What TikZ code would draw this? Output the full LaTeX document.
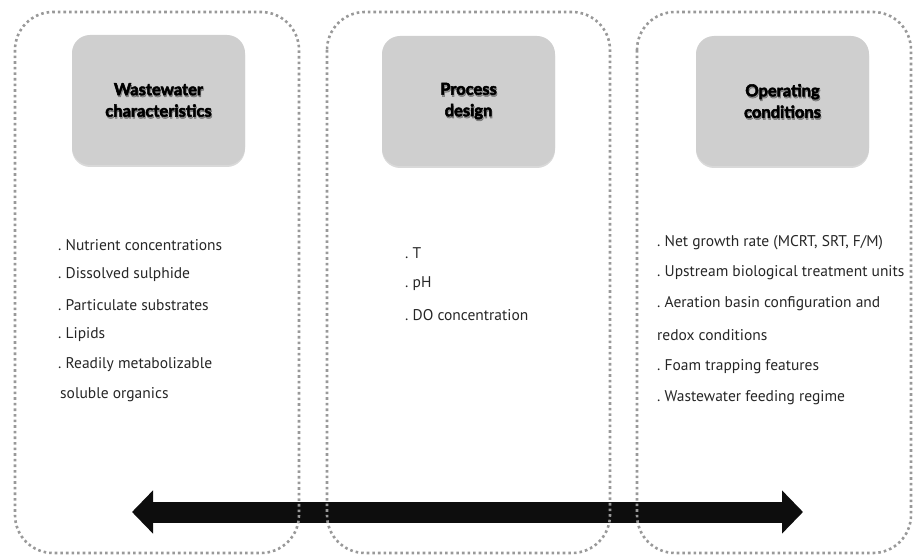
\documentclass[tikz,border=0pt]{standalone}
\usepackage{fontspec}
\setmainfont{PT Sans}
\newfontfamily\headfont[BoldFeatures={FakeBold=3}]{Lato}
\usetikzlibrary{arrows.meta,shadows}
\begin{document}
\begin{tikzpicture}[x=1pt,y=-1pt,
  panel/.style={draw=gray!80, line width=2.6pt, dash pattern=on 2.6pt off 3pt, rounded corners=38pt},
  headbox/.style={fill=gray!38, rounded corners=18pt, minimum width=173pt, minimum height=130pt,
    drop shadow={shadow xshift=0pt, shadow yshift=-2pt, opacity=0.15, fill=black}},
  headtext/.style={align=center, font=\headfont\bfseries\fontsize{16.5}{21.5}\selectfont},
  headshade/.style={headtext, text=black, opacity=0.3, xshift=0.8pt, yshift=-1.8pt},
  item/.style={anchor=west, inner sep=0pt, font=\fontsize{15.5}{16}\selectfont, color=black!85},
  bigarrow/.style={line width=21pt, color=black!95,
    {Triangle[length=21pt,width=42pt]}-{Triangle[length=21pt,width=42pt]}}]
\useasboundingbox (0,0) rectangle (913,556);

% two-way arrow along the bottom
\coordinate (la) at (132,512);
\coordinate (ra) at (803,512);
\draw[bigarrow] (la) -- (ra);

% dotted panels
\draw[panel] (15,12) rectangle (299,553);
\draw[panel] (327,12) rectangle (610,553);
\draw[panel] (637,12) rectangle (911,553);

% heading boxes
\node[headbox] (h1) at (158.5,100) {};
\node[headbox] (h2) at (468.5,101) {};
\node[headbox] (h3) at (782.5,101) {};

% heading titles, each with a soft shade underneath
\node[headshade] at (h1) {Wastewater\\characteristics};
\node[headtext] (t1) at (h1) {Wastewater\\characteristics};
\node[headshade] at (h2) {Process\\design};
\node[headtext] (t2) at (h2) {Process\\design};
\node[headshade] at (h3) {Operating\\conditions};
\node[headtext] (t3) at (h3) {Operating\\conditions};

% wastewater characteristics
\node[item] (a1) at (58,245) {.\ Nutrient concentrations};
\node[item] (a2) at (58,275) {.\ Dissolved sulphide};
\node[item] (a3) at (58,305) {.\ Particulate substrates};
\node[item] (a4) at (58,335) {.\ Lipids};
\node[item] (a5) at (58,365) {.\ Readily metabolizable};
\node[item] (a6) at (60,395) {soluble organics};

% process design
\node[item] (b1) at (405,253) {.\ T};
\node[item] (b2) at (405,284) {.\ pH};
\node[item] (b3) at (405,315) {.\ DO concentration};

% operating conditions
\node[item] (c1) at (657,243) {.\ Net growth rate (MCRT, SRT, F/M)};
\node[item] (c2) at (657,273) {.\ Upstream biological treatment units};
\node[item] (c3) at (657,304) {.\ Aeration basin configuration and};
\node[item] (c4) at (657,335) {redox conditions};
\node[item] (c5) at (657,367) {.\ Foam trapping features};
\node[item] (c6) at (657,398) {.\ Wastewater feeding regime};
\end{tikzpicture}
\end{document}
